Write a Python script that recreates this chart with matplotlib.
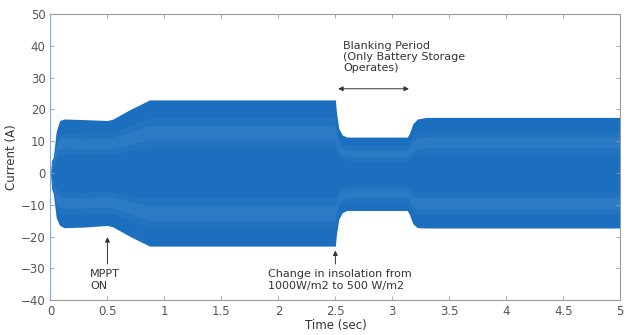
import numpy as np
import matplotlib.pyplot as plt

# envelope of the inverter current
t_env = [0.0, 0.01, 0.025, 0.05, 0.08, 0.12, 0.3, 0.5, 0.55, 0.7, 0.87, 2.0, 2.5, 2.51, 2.53, 2.56, 2.6, 3.13, 3.15, 3.18, 3.22, 3.3, 5.0]
i_upper = [0.0, 4.0, 5.0, 13.0, 16.5, 17.0, 16.8, 16.5, 17.0, 20.0, 23.0, 23.0, 23.0, 19.0, 14.0, 12.0, 11.3, 11.3, 12.5, 15.5, 17.0, 17.5, 17.5]
i_lower = [0.0, -5.0, -6.5, -14.0, -16.5, -17.2, -17.0, -16.5, -17.0, -20.0, -23.0, -23.0, -23.0, -19.0, -14.5, -12.5, -11.8, -11.8, -13.0, -16.0, -17.2, -17.3, -17.3]

x_ticks = [0, 0.5, 1, 1.5, 2, 2.5, 3, 3.5, 4, 4.5, 5]
y_ticks = [-40, -30, -20, -10, 0, 10, 20, 30, 40, 50]

blue = '#1b6fbe'
light = '#5a9ddb'
grey = '#555555'

fig = plt.figure(figsize=(6.31, 3.35), dpi=100)
ax = fig.add_axes([0.080, 0.104, 0.903, 0.854])

t = np.array(t_env)
up = np.array(i_upper)
lo = np.array(i_lower)
ax.fill_between(t, lo, up, color=blue, linewidth=0)
# faint lighter bands inside the waveform
for a, b, al in [(0.35, 0.75, 0.12), (0.45, 0.65, 0.15)]:
    ax.fill_between(t, a * up, b * up, color=light, alpha=al, linewidth=0)
    ax.fill_between(t, a * lo, b * lo, color=light, alpha=al, linewidth=0)

ax.set_xlim(0, 5)
ax.set_ylim(-40, 50)
ax.set_xticks(x_ticks)
ax.set_xticklabels(['0', '0.5', '1', '1.5', '2', '2.5', '3', '3.5', '4', '4.5', '5'])
ax.set_yticks(y_ticks)
ax.tick_params(direction='in', top=True, right=True, length=3, width=0.6,
               colors='#999999', labelcolor=grey, labelsize=8.5)
for s in ax.spines.values():
    s.set_color('#999999')
    s.set_linewidth(0.8)
ax.spines['left'].set_color('#7fb4e2')

ax.set_xlabel('Time (sec)', fontsize=8.5, color='#333333', labelpad=1)
ax.set_ylabel('Current (A)', fontsize=8.5, color='#333333', labelpad=2)

txt = dict(fontsize=8, color='#333333')
ax.text(2.57, 41.5, 'Blanking Period\n(Only Battery Storage\nOperates)', va='top', ha='left',
        linespacing=1.15, **txt)
ax.annotate('', xy=(2.5, 26.5), xytext=(3.17, 26.5),
            arrowprops=dict(arrowstyle='<|-|>', color='#333333', lw=0.7, mutation_scale=7))

ax.annotate('', xy=(0.5, -19.3), xytext=(0.5, -29.5),
            arrowprops=dict(arrowstyle='-|>', color='#333333', lw=0.7, mutation_scale=7))
ax.text(0.35, -30.3, 'MPPT\nON', va='top', ha='left', linespacing=1.15, **txt)

ax.annotate('', xy=(2.5, -23.5), xytext=(2.5, -29.5),
            arrowprops=dict(arrowstyle='-|>', color='#333333', lw=0.7, mutation_scale=7))
ax.text(1.91, -30.3, 'Change in insolation from\n1000W/m2 to 500 W/m2', va='top', ha='left',
        linespacing=1.15, **txt)

fig.savefig('out.png', dpi=100)
